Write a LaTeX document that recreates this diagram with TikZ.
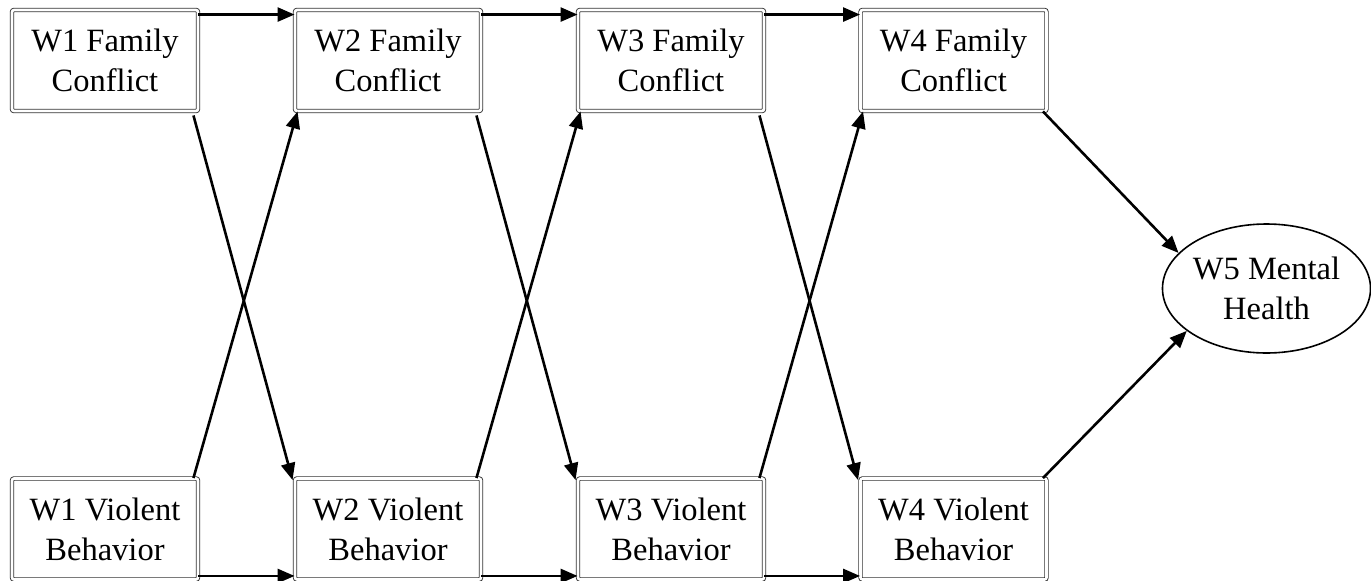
\documentclass[tikz,border=0pt]{standalone}
\usepackage{fontspec}
\setmainfont{Liberation Serif}
\usetikzlibrary{arrows.meta,shapes.geometric}
\begin{document}
\begin{tikzpicture}[x=1pt,y=-1pt,
  varbox/.style={draw=black!80, double=white, double distance=2.6pt, line width=0.9pt,
    rounded corners=2pt, minimum width=186pt, minimum height=101pt, inner sep=0pt,
    align=center, font=\fontsize{32.5}{40}\selectfont},
  outcome/.style={draw, ellipse, line width=1.6pt, minimum width=207pt, minimum height=129pt,
    inner sep=0pt, align=center, font=\fontsize{32.5}{40}\selectfont},
  path/.style={line width=2.6pt, -{Triangle[length=17pt,width=14pt]}}]
\useasboundingbox (0,0) rectangle (1371,581);
\node[varbox] (F1) at (105,60.5) {W1 Family\\Conflict};
\node[varbox] (F2) at (388,60.5) {W2 Family\\Conflict};
\node[varbox] (F3) at (671,60.5) {W3 Family\\Conflict};
\node[varbox] (F4) at (953.5,60.5) {W4 Family\\Conflict};
\node[varbox] (V1) at (105,529) {W1 Violent\\Behavior};
\node[varbox] (V2) at (388,529) {W2 Violent\\Behavior};
\node[varbox] (V3) at (671,529) {W3 Violent\\Behavior};
\node[varbox] (V4) at (953.5,529) {W4 Violent\\Behavior};
\node[outcome] (M) at (1266.5,288.5) {W5 Mental\\Health};
% horizontal paths
\draw[path] ([yshift=-5pt]F1.north east) -- ([yshift=-5pt]F2.north west);
\draw[path] ([yshift=-5pt]F2.north east) -- ([yshift=-5pt]F3.north west);
\draw[path] ([yshift=-5pt]F3.north east) -- ([yshift=-5pt]F4.north west);
\draw[path] ([yshift=4pt]V1.south east) -- ([yshift=4pt]V2.south west);
\draw[path] ([yshift=4pt]V2.south east) -- ([yshift=4pt]V3.south west);
\draw[path] ([yshift=4pt]V3.south east) -- ([yshift=4pt]V4.south west);
% cross paths
\draw[path] ([xshift=-5pt,yshift=-4pt]F1.south east) -- ([xshift=-2pt,yshift=-2pt]V2.north west);
\draw[path] ([xshift=-5pt]V1.north east) -- ([xshift=3pt]F2.south west);
\draw[path] ([xshift=-5pt,yshift=-4pt]F2.south east) -- ([xshift=-2pt,yshift=-2pt]V3.north west);
\draw[path] ([xshift=-5pt]V2.north east) -- ([xshift=3pt]F3.south west);
\draw[path] ([xshift=-5pt,yshift=-4pt]F3.south east) -- ([xshift=-2pt,yshift=-2pt]V4.north west);
\draw[path] ([xshift=-5pt]V3.north east) -- ([xshift=3pt]F4.south west);
% to outcome
\draw[path] ([xshift=-4pt]F4.south east) -- (M.158);
\draw[path] ([xshift=-4pt]V4.north east) -- (M.208);
\end{tikzpicture}
\end{document}
